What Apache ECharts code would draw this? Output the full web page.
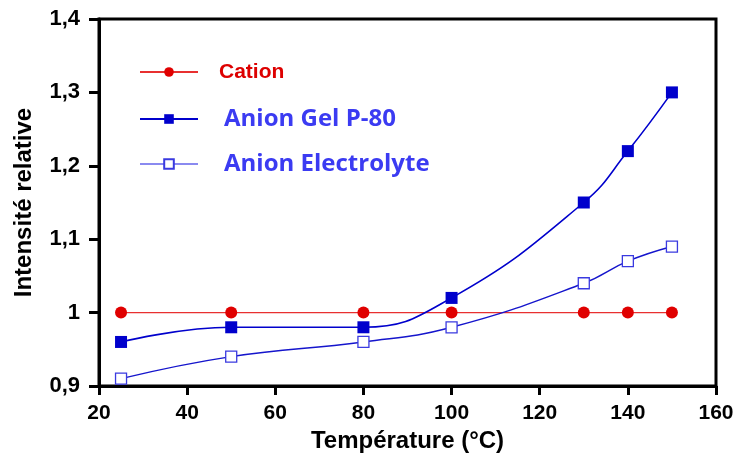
<!DOCTYPE html>
<html>
<head>
<meta charset="utf-8">
<script src="https://cdn.jsdelivr.net/npm/echarts@6/dist/echarts.min.js"></script>
<style>
  html, body { margin: 0; padding: 0; background: #fff; }
  #chart { width: 737px; height: 464px; }
</style>
</head>
<body>
<div id="chart"></div>
<script>
// données
var temperatures = [25, 50, 80, 100, 130, 140, 150];
var cation = [1, 1, 1, 1, 1, 1, 1];
var anionGel = [0.96, 0.98, 0.98, 1.02, 1.15, 1.22, 1.30];
var anionElectrolyte = [0.91, 0.94, 0.96, 0.98, 1.04, 1.07, 1.09];

function pairs(xs, ys) {
    return xs.map(function (x, i) { return [x, ys[i]]; });
}

var font = '"Liberation Sans", Arial, sans-serif';
var legendFont = '"Open Sans", "DejaVu Sans", sans-serif';

// une légende par ligne, pour placer chaque entrée comme sur la figure
function legendRow(name, centerY, textStyle, extra) {
    var item = { name: name, textStyle: textStyle };
    if (extra) item.lineStyle = extra;
    return {
        left: 139,
        top: centerY - 15,
        padding: 0,
        selectedMode: false,
        itemWidth: 58,
        itemHeight: 12,
        textStyle: { lineHeight: 30, height: 30 },
        data: [item]
    };
}

var chart = echarts.init(document.getElementById('chart'));
var option = {
    animation: false,
    grid: {
        left: 99,
        right: 21,
        top: 19,
        bottom: 78,
        show: true,
        borderColor: '#000',
        borderWidth: 3
    },
    legend: [
        legendRow('Cation', 72, { fontFamily: font, fontWeight: 'bold', fontSize: 21, color: '#dd0000', padding: [0, 0, 0, 16] }),
        legendRow('Anion Gel P-80', 119, { fontFamily: legendFont, fontWeight: 'bold', fontSize: 24, color: '#3b3bf2', padding: [0, 0, 0, 21] }),
        legendRow('Anion Electrolyte', 164, { fontFamily: legendFont, fontWeight: 'bold', fontSize: 24, color: '#3b3bf2', padding: [0, 0, 0, 21] }, { color: '#8a8af0' })
    ],
    xAxis: {
        type: 'value',
        min: 20,
        max: 160,
        interval: 20,
        name: 'Température (°C)',
        nameLocation: 'middle',
        nameGap: 40,
        nameTextStyle: { fontFamily: font, fontWeight: 'bold', fontSize: 24, color: '#000' },
        axisLine: { lineStyle: { color: '#000', width: 3 } },
        axisTick: { length: 9, lineStyle: { color: '#000', width: 3 } },
        axisLabel: { fontFamily: font, fontWeight: 'bold', fontSize: 21, color: '#000', margin: 17 },
        splitLine: { show: false }
    },
    yAxis: {
        type: 'value',
        min: 0.9,
        max: 1.4,
        interval: 0.1,
        name: 'Intensité relative',
        nameLocation: 'middle',
        nameGap: 63,
        nameTextStyle: { fontFamily: font, fontWeight: 'bold', fontSize: 24, color: '#000' },
        axisLine: { lineStyle: { color: '#000', width: 3 } },
        axisTick: { length: 10, lineStyle: { color: '#000', width: 3 } },
        axisLabel: {
            fontFamily: font, fontWeight: 'bold', fontSize: 22, color: '#000', margin: 19,
            formatter: function (v) {
                if (Math.abs(v - 1) < 1e-9) return '1';
                return v.toFixed(1).replace('.', ',');
            }
        },
        splitLine: { show: false }
    },
    series: [
        {
            name: 'Cation',
            type: 'line',
            data: pairs(temperatures, cation),
            symbol: 'circle',
            symbolSize: 12,
            itemStyle: { color: '#e00000' },
            lineStyle: { color: '#e83030', width: 1.2 },
            z: 3
        },
        {
            name: 'Anion Gel P-80',
            type: 'line',
            data: pairs(temperatures, anionGel),
            smooth: 0.45,
            symbol: 'rect',
            symbolSize: 12,
            itemStyle: { color: '#0000cc' },
            lineStyle: { color: '#0000cc', width: 1.6 },
            z: 4
        },
        {
            name: 'Anion Electrolyte',
            type: 'line',
            data: pairs(temperatures, anionElectrolyte),
            smooth: 0.45,
            symbol: 'rect',
            symbolSize: 11,
            itemStyle: { color: '#fff', borderColor: '#3a3ae0', borderWidth: 1.3 },
            lineStyle: { color: '#1515cc', width: 1.4 },
            z: 4
        }
    ]
};
chart.setOption(option);
</script>
</body>
</html>
